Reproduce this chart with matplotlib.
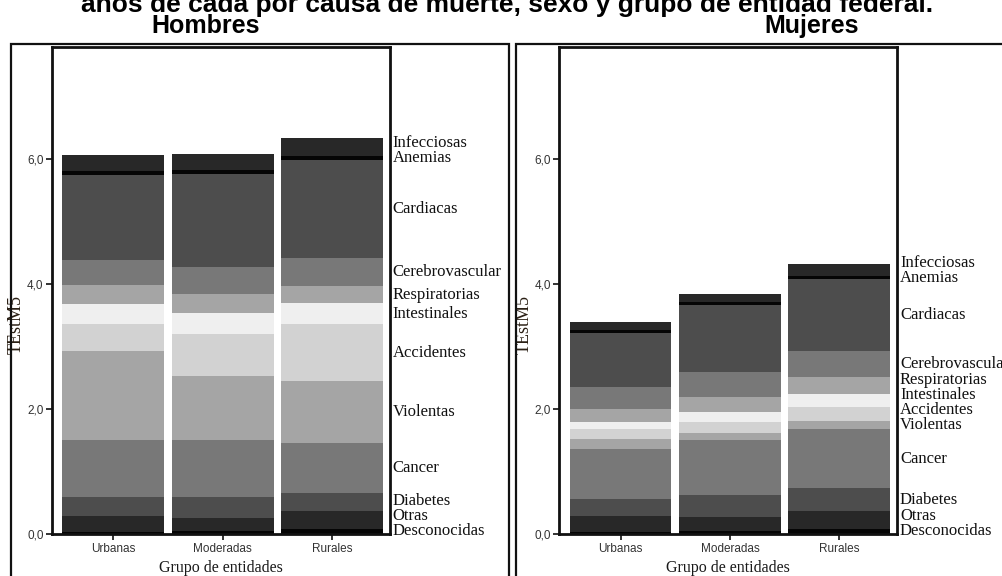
import matplotlib.pyplot as plt
import matplotlib.patches as mpatches
import numpy as np

# Causes, stacked from the bottom up
causes = ['Desconocidas', 'Otras', 'Diabetes', 'Cancer', 'Violentas', 'Accidentes',
          'Intestinales', 'Respiratorias', 'Cerebrovascular', 'Cardiacas', 'Anemias', 'Infecciosas']
cause_colors = ['#050505', '#282828', '#4d4d4d', '#787878', '#a5a5a5', '#d2d2d2',
                '#efefef', '#a5a5a5', '#787878', '#4d4d4d', '#050505', '#282828']

groups = ['Urbanas', 'Moderadas', 'Rurales']

# values per cause, one entry per group (Urbanas, Moderadas, Rurales)
hombres = [
    [0.04, 0.05, 0.09],   # Desconocidas
    [0.25, 0.21, 0.28],   # Otras
    [0.31, 0.34, 0.29],   # Diabetes
    [0.91, 0.91, 0.80],   # Cancer
    [1.42, 1.03, 0.99],   # Violentas
    [0.44, 0.66, 0.91],   # Accidentes
    [0.31, 0.34, 0.34],   # Intestinales
    [0.31, 0.30, 0.27],   # Respiratorias
    [0.39, 0.43, 0.45],   # Cerebrovascular
    [1.37, 1.50, 1.56],   # Cardiacas
    [0.06, 0.06, 0.07],   # Anemias
    [0.26, 0.26, 0.29],   # Infecciosas
]
mujeres = [
    [0.03, 0.05, 0.09],   # Desconocidas
    [0.26, 0.23, 0.28],   # Otras
    [0.28, 0.35, 0.37],   # Diabetes
    [0.80, 0.88, 0.94],   # Cancer
    [0.16, 0.11, 0.13],   # Violentas
    [0.15, 0.18, 0.22],   # Accidentes
    [0.12, 0.15, 0.21],   # Intestinales
    [0.21, 0.25, 0.27],   # Respiratorias
    [0.34, 0.40, 0.42],   # Cerebrovascular
    [0.87, 1.06, 1.15],   # Cardiacas
    [0.05, 0.05, 0.05],   # Anemias
    [0.13, 0.14, 0.19],   # Infecciosas
]

title = 'años de cada por causa de muerte, sexo y grupo de entidad federal.'
panel_titles = ['Hombres', 'Mujeres']
yticks = [0, 2, 4, 6]

plt.rcParams['font.family'] = ['Liberation Sans', 'DejaVu Sans']
serif = ['Liberation Serif', 'DejaVu Serif']

W, H = 1002, 576
fig = plt.figure(figsize=(W / 100, H / 100), dpi=100)


def fx(px):
    return px / W


def fy(py):
    return 1 - py / H


# outer frames around each panel
for x0, x1 in [(11, 509), (516, 1010)]:
    fig.patches.append(mpatches.Rectangle((fx(x0), fy(590)), fx(x1 - x0), fy(43.5) - fy(590),
                                          transform=fig.transFigure, fill=False,
                                          edgecolor='#111111', linewidth=1.6))

fig.text(fx(507), fy(12), title, ha='center', va='baseline', fontsize=19, fontweight='bold')
fig.text(fx(206), fy(33), panel_titles[0], ha='center', va='baseline', fontsize=18, fontweight='bold')
fig.text(fx(812), fy(33), panel_titles[1], ha='center', va='baseline', fontsize=18, fontweight='bold')

axes_left = [52, 559.3]
for k, (data, left) in enumerate(zip([hombres, mujeres], axes_left)):
    ax = fig.add_axes([fx(left), fy(534.3), fx(338), fy(47.3) - fy(534.3)])
    x = np.arange(len(groups))
    vals = np.array(data)
    bottom = np.zeros(len(groups))
    for cause, color, v in zip(causes, cause_colors, vals):
        ax.bar(x, v, bottom=bottom, width=0.93, color=color, edgecolor='none')
        bottom = bottom + v

    ax.set_xlim(-0.56, 2.53)
    ax.set_ylim(0, 7.79)
    ax.set_xticks(x)
    ax.set_xticklabels(groups, fontsize=8.5, color='#333333')
    ax.set_yticks(yticks)
    ax.set_yticklabels([f'{t:.1f}'.replace('.', ',') for t in yticks], fontsize=8.5, color='#333333')
    ax.tick_params(direction='out', length=4, width=1.2, color='#111111', pad=2)
    for sp in ax.spines.values():
        sp.set_linewidth(2)
        sp.set_color('#111111')

    ax.set_xlabel('Grupo de entidades', family=serif, fontsize=11.5, color='#1a1a1a', labelpad=4)
    ax.set_ylabel('TEstM5', family=serif, fontsize=13, color='#2a1f14')
    ax.yaxis.set_label_coords(-0.08, 0.43)

    # labels at the middle of the last bar's segments, pushed apart when crowded
    last = vals[:, -1]
    tops = np.cumsum(last)
    mids = tops - last / 2
    ys = []
    for m in mids:
        y = m if not ys else max(m, ys[-1] + 0.24)
        ys.append(y)
    for cause, y in zip(causes, ys):
        ax.text(1.008, y, cause, transform=ax.get_yaxis_transform(), family=serif,
                fontsize=12, va='center', ha='left', color='#111111', clip_on=False)

fig.savefig('out.png', dpi=100)
